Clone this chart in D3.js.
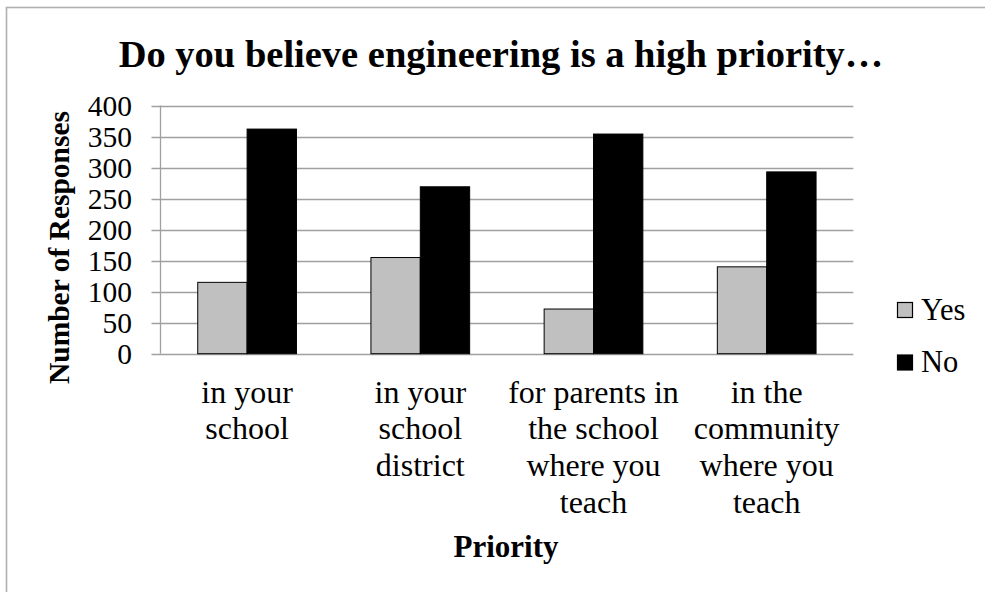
<!DOCTYPE html>
<html>
<head>
<meta charset="utf-8">
<script src="https://cdn.jsdelivr.net/npm/d3@7/dist/d3.min.js"></script>
<style>
  html, body { margin: 0; padding: 0; background: #fff; }
  svg { display: block; }
  text { font-family: "Liberation Serif", "Times New Roman", serif; fill: #000; }
</style>
</head>
<body>
<svg id="chart" width="985" height="592"></svg>
<script>
// Survey responses per priority level
const categories = [
  ["in your", "school"],
  ["in your", "school", "district"],
  ["for parents in", "the school", "where you", "teach"],
  ["in the", "community", "where you", "teach"]
];
const seriesNames = ["Yes", "No"];
const yesValues = [115, 155, 72, 140];
const noValues = [362, 269, 354, 293];
const yTicks = [0, 50, 100, 150, 200, 250, 300, 350, 400];
const seriesColors = { Yes: "#c0c0c0", No: "#000000" };

const svg = d3.select("#chart");
const W = 985, H = 592;
const plot = { left: 160.5, right: 853.3, top: 105.5, bottom: 353.7 };

// Outer chart frame
svg.append("rect")
  .attr("x", 6.5).attr("y", 7.5)
  .attr("width", W + 20).attr("height", H + 20)
  .attr("fill", "#fff")
  .attr("stroke", "#b0b0b0").attr("stroke-width", 1.6);

const catIndex = categories.map((d, i) => i);
const x = d3.scaleBand().domain(catIndex)
  .range([plot.left, plot.right])
  .paddingInner(0.43).paddingOuter(0.215);
const xInner = d3.scaleBand().domain(seriesNames).range([0, x.bandwidth()]);
const y = d3.scaleLinear().domain([0, 400]).range([plot.bottom, plot.top]);

// Gridlines
svg.append("g")
  .selectAll("line")
  .data(yTicks)
  .join("line")
  .attr("x1", plot.left - 9).attr("x2", plot.right)
  .attr("y1", d => Math.round(y(d)) + 0.5).attr("y2", d => Math.round(y(d)) + 0.5)
  .attr("stroke", "#a0a0a0").attr("stroke-width", 1.3);

// Vertical axis line
svg.append("line")
  .attr("x1", plot.left).attr("x2", plot.left)
  .attr("y1", plot.top).attr("y2", plot.bottom)
  .attr("stroke", "#a0a0a0").attr("stroke-width", 1.3);

// Tick labels
svg.append("g")
  .selectAll("text")
  .data(yTicks)
  .join("text")
  .attr("x", 132).attr("y", d => y(d))
  .attr("dy", "0.34em")
  .attr("text-anchor", "end")
  .style("font-size", "29.5px")
  .text(d => d);

// Bars
const rows = catIndex.map(i => ({ i, Yes: yesValues[i], No: noValues[i] }));
const groups = svg.append("g").selectAll("g")
  .data(rows).join("g")
  .attr("transform", d => `translate(${x(d.i)},0)`);
groups.selectAll("rect")
  .data(d => seriesNames.map(s => ({ s, v: d[s] })))
  .join("rect")
  .attr("x", d => xInner(d.s))
  .attr("y", d => y(d.v))
  .attr("width", xInner.bandwidth())
  .attr("height", d => y(0) - y(d.v))
  .attr("fill", d => seriesColors[d.s])
  .attr("stroke", "#000").attr("stroke-width", 1);

// Category labels
const catLabels = svg.append("g").selectAll("text")
  .data(rows).join("text")
  .attr("text-anchor", "middle")
  .style("font-size", "32px")
  .attr("x", d => x(d.i) + x.bandwidth() / 2)
  .attr("y", 402.7);
catLabels.selectAll("tspan")
  .data(d => categories[d.i])
  .join("tspan")
  .attr("x", function() { return d3.select(this.parentNode).attr("x"); })
  .attr("dy", (d, k) => k === 0 ? 0 : 36.6)
  .text(d => d);

// Title
svg.append("text")
  .attr("x", 501).attr("y", 67)
  .attr("text-anchor", "middle")
  .style("font-size", "38.5px").style("font-weight", "bold")
  .text("Do you believe engineering is a high priority…");

// Axis titles
svg.append("text")
  .attr("x", 506).attr("y", 557)
  .attr("text-anchor", "middle")
  .style("font-size", "31px").style("font-weight", "bold")
  .text("Priority");

svg.append("text")
  .attr("transform", "translate(68.5,247.5) rotate(-90)")
  .attr("text-anchor", "middle")
  .style("font-size", "29.5px").style("font-weight", "bold")
  .text("Number of Responses");

// Legend
const legend = svg.append("g").selectAll("g")
  .data(seriesNames).join("g")
  .attr("transform", (d, i) => `translate(897.5,${302.5 + i * 52.5})`);
legend.append("rect")
  .attr("x", 0).attr("y", 0).attr("width", 15).attr("height", 15)
  .attr("fill", d => seriesColors[d])
  .attr("stroke", "#000").attr("stroke-width", 1.2);
legend.append("text")
  .attr("x", 23.5).attr("y", 17)
  .style("font-size", "30.5px")
  .text(d => d);
</script>
</body>
</html>
